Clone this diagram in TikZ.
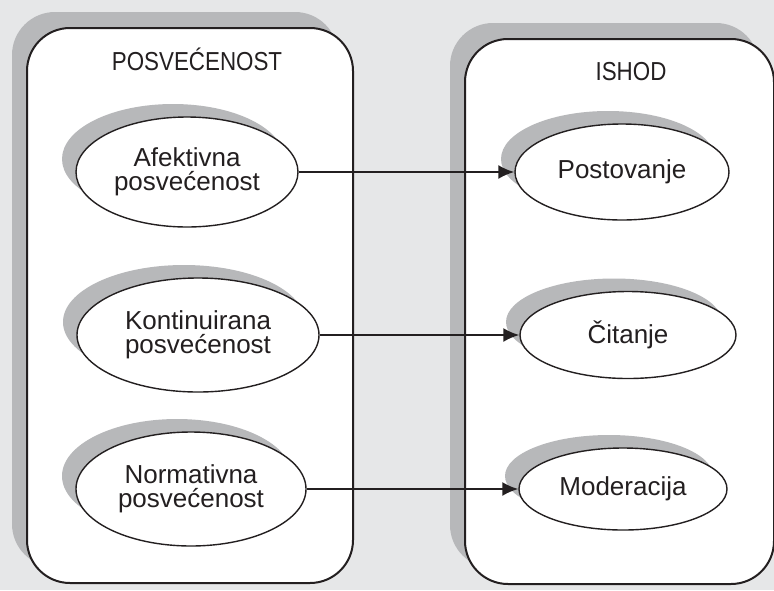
\documentclass[tikz,border=0pt]{standalone}
\usepackage{fontspec}
\setmainfont{Liberation Sans}
\newfontfamily\titlefont[FakeStretch=0.86]{Liberation Sans}
\usetikzlibrary{arrows.meta, shapes.geometric, shadows}
\definecolor{bggray}{HTML}{E6E7E8}
\definecolor{shadowgray}{HTML}{B7B8BA}
\definecolor{inkblack}{HTML}{231F20}
\tikzset{
    panel/.style={rectangle, draw=inkblack, line width=2pt, fill=white, rounded corners=43pt,
        general shadow={shadow xshift=-15pt, shadow yshift=16pt, fill=shadowgray}},
    oval/.style={ellipse, draw=inkblack, line width=1.4pt, fill=white, inner sep=0pt, align=center,
        text=inkblack, font=\fontsize{26}{23.5}\selectfont,
        general shadow={shadow xshift=-14pt, shadow yshift=13pt, fill=shadowgray}},
    heading/.style={anchor=base, text=inkblack, font=\titlefont\fontsize{26}{26}\selectfont},
    arrow/.style={-{Latex[length=16pt, width=14pt]}, line width=2pt, draw=inkblack}
}
\begin{document}
\begin{tikzpicture}[x=1pt, y=-1pt]
                \fill[bggray] (0,0) rectangle (774,590);
                \useasboundingbox (0,0) rectangle (774,590);
                % the two panels
                \node[panel, minimum width=326pt, minimum height=555pt] (posv) at (190,305.5) {};
                \node[panel, minimum width=309pt, minimum height=545pt] (ishod) at (619.5,311.5) {};
                \node[heading] (posvlbl) at (197,70) {POSVEĆENOST};
                \node[heading] (ishodlbl) at (631,80) {ISHOD};
                % left column
                \node[oval, minimum width=222pt, minimum height=110pt] (afek) at (187,172) {Afektivna\\posvećenost};
                \node[oval, minimum width=242pt, minimum height=114pt] (kont) at (198,335) {Kontinuirana\\posvećenost};
                \node[oval, minimum width=230pt, minimum height=114pt] (norm) at (191,489) {Normativna\\posvećenost};
                % right column
                \node[oval, minimum width=214pt, minimum height=96pt] (post) at (622,172) {Postovanje};
                \node[oval, minimum width=216pt, minimum height=87pt] (cit) at (628,335) {Čitanje};
                \node[oval, minimum width=208pt, minimum height=82pt] (mod) at (623,489) {Moderacija};
                \draw[arrow] (afek) -- (post);
                \draw[arrow] (kont) -- (cit);
                \draw[arrow] (norm) -- (mod);
            \end{tikzpicture}
\end{document}
